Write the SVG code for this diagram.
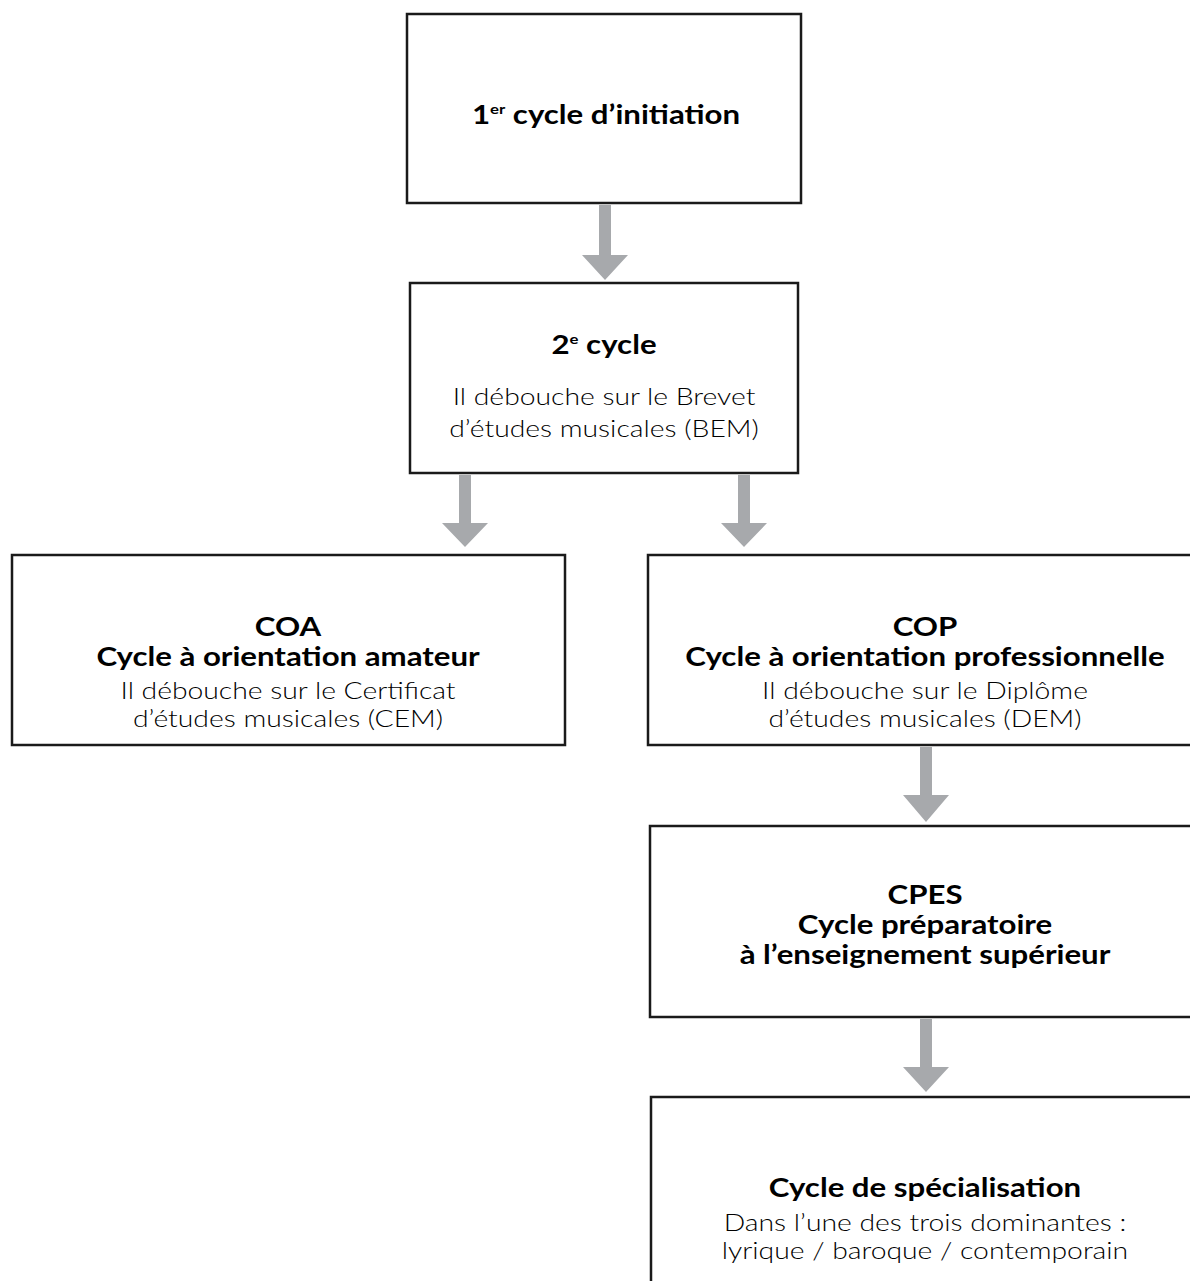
<svg xmlns="http://www.w3.org/2000/svg" width="1190" height="1281" viewBox="0 0 1190 1281">
<defs>
<style>
.box{fill:#fff;stroke:#1a1a1a;stroke-width:2.5}
.h{font-family:Lato,"Noto Sans","Liberation Sans",sans-serif;font-weight:700;font-size:26px;fill:#000;text-anchor:middle}
.b{font-family:Lato,"Noto Sans","Liberation Sans",sans-serif;font-weight:300;font-size:24px;fill:#000;text-anchor:middle}
.sup{font-size:14px}
.arr{fill:#a7a9ac}
</style>
</defs>
<rect width="1190" height="1281" fill="#fff"/>
<g id="connectors">
<path class="arr" d="M599 205H611V255H628L605 280L582 255H599Z"/>
<path class="arr" d="M459 475H471V523H488L465 547L442 523H459Z"/>
<path class="arr" d="M738 475H750V523H767L744 547L721 523H738Z"/>
<path class="arr" d="M920 747H932V795H949L926 822L903 795H920Z"/>
<path class="arr" d="M920 1019H932V1067H949L926 1092L903 1067H920Z"/>
</g>
<g id="n1">
<rect class="box" x="407" y="14" width="394" height="189"/>
<text class="h" transform="translate(606 0) scale(1.2 1)" x="0" y="124">1<tspan class="sup" dy="-10">er</tspan><tspan dy="10"> cycle d’initiation</tspan></text>
</g>
<g id="n2">
<rect class="box" x="410" y="283" width="388" height="190"/>
<text class="h" transform="translate(604 0) scale(1.2 1)" x="0" y="354">2<tspan class="sup" dy="-10">e</tspan><tspan dy="10"> cycle</tspan></text>
<text class="b" transform="translate(604 0) scale(1.18 1)" x="0" y="405">Il débouche sur le Brevet</text>
<text class="b" transform="translate(604 0) scale(1.18 1)" x="0" y="437">d’études musicales (BEM)</text>
</g>
<g id="coa">
<rect class="box" x="12" y="555" width="553" height="190"/>
<text class="h" transform="translate(288 0) scale(1.2 1)" x="0" y="636">COA</text>
<text class="h" transform="translate(288 0) scale(1.2 1)" x="0" y="666">Cycle à orientation amateur</text>
<text class="b" transform="translate(288 0) scale(1.18 1)" x="0" y="699">Il débouche sur le Certificat</text>
<text class="b" transform="translate(288 0) scale(1.18 1)" x="0" y="727">d’études musicales (CEM)</text>
</g>
<g id="cop">
<rect class="box" x="648" y="555" width="544" height="190"/>
<text class="h" transform="translate(925 0) scale(1.2 1)" x="0" y="636">COP</text>
<text class="h" transform="translate(925 0) scale(1.2 1)" x="0" y="666">Cycle à orientation professionnelle</text>
<text class="b" transform="translate(925 0) scale(1.18 1)" x="0" y="699">Il débouche sur le Diplôme</text>
<text class="b" transform="translate(925 0) scale(1.18 1)" x="0" y="727">d’études musicales (DEM)</text>
</g>
<g id="cpes">
<rect class="box" x="650" y="826" width="542" height="191"/>
<text class="h" transform="translate(925 0) scale(1.2 1)" x="0" y="904">CPES</text>
<text class="h" transform="translate(925 0) scale(1.2 1)" x="0" y="934">Cycle préparatoire</text>
<text class="h" transform="translate(925 0) scale(1.2 1)" x="0" y="964">à l’enseignement supérieur</text>
</g>
<g id="spec">
<rect class="box" x="651" y="1097" width="541" height="200"/>
<text class="h" transform="translate(925 0) scale(1.2 1)" x="0" y="1197">Cycle de spécialisation</text>
<text class="b" transform="translate(925 0) scale(1.18 1)" x="0" y="1231">Dans l’une des trois dominantes :</text>
<text class="b" transform="translate(925 0) scale(1.18 1)" x="0" y="1259">lyrique / baroque / contemporain</text>
</g>
</svg>
